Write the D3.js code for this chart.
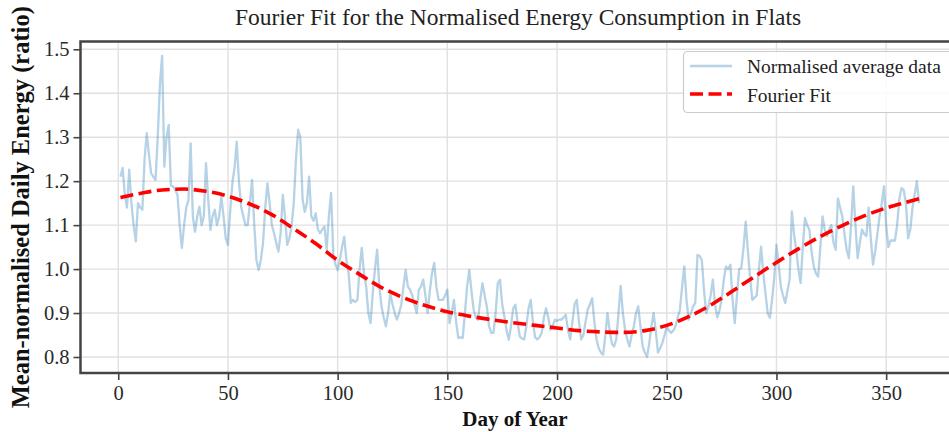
<!DOCTYPE html>
<html>
<head>
<meta charset="utf-8">
<script src="https://cdn.jsdelivr.net/npm/d3@7"></script>
<style>
  html, body { margin: 0; padding: 0; background: #fff; overflow: hidden; }
  svg { display: block; }
  text { font-family: "Liberation Serif", "Times New Roman", serif; }
</style>
</head>
<body>
<svg id="chart" width="949" height="432"></svg>
<script>
// ---------------- DATA ----------------
const chartTitle = "Fourier Fit for the Normalised Energy Consumption in Flats";
const xLabel = "Day of Year";
const yLabel = "Mean-normalised Daily Energy (ratio)";
const seriesNames = ["Normalised average data", "Fourier Fit"];

// normalised average daily data, day 1 .. 365 (7 values per row)
const dailyValues = [
  1.21, 1.23, 1.17, 1.14, 1.226, 1.15, 1.10,
  1.063, 1.15, 1.14, 1.135, 1.25, 1.309, 1.26,
  1.218, 1.21, 1.203, 1.30, 1.42, 1.485, 1.233,
  1.30, 1.328, 1.19, 1.188, 1.18, 1.169, 1.10,
  1.048, 1.10, 1.14, 1.157, 1.286, 1.12, 1.085,
  1.12, 1.142, 1.10, 1.12, 1.241, 1.16, 1.089,
  1.12, 1.135, 1.10, 1.12, 1.165, 1.12, 1.07,
  1.055, 1.13, 1.195, 1.23, 1.29, 1.20, 1.142,
  1.12, 1.10, 1.10, 1.15, 1.203, 1.10, 1.02,
  0.998, 1.021, 1.06, 1.14, 1.195, 1.15, 1.10,
  1.082, 1.06, 1.04, 1.08, 1.169, 1.12, 1.055,
  1.07, 1.097, 1.15, 1.25, 1.317, 1.30, 1.16,
  1.13, 1.15, 1.21, 1.12, 1.11, 1.127, 1.09,
  1.082, 1.09, 1.097, 1.044, 1.12, 1.173, 1.036,
  1.01, 0.998, 1.021, 1.05, 1.074, 1.02, 0.991,
  0.923, 0.93, 0.925, 0.93, 1.00, 1.048, 0.99,
  0.96, 0.90, 0.877, 0.945, 1.00, 1.044, 0.96,
  0.915, 0.89, 0.87, 0.90, 0.945, 0.92, 0.90,
  0.885, 0.90, 0.919, 0.96, 0.998, 0.96, 0.953,
  0.94, 0.92, 0.90, 0.953, 0.96, 0.976, 0.94,
  0.90, 0.95, 0.99, 1.014, 0.96, 0.93, 0.93,
  0.93, 0.94, 0.953, 0.877, 0.90, 0.93, 0.88,
  0.843, 0.845, 0.843, 0.90, 0.96, 0.998, 0.95,
  0.907, 0.89, 0.885, 0.93, 0.968, 0.94, 0.915,
  0.87, 0.855, 0.855, 0.90, 0.968, 0.976, 0.92,
  0.892, 0.86, 0.839, 0.87, 0.91, 0.919, 0.88,
  0.847, 0.842, 0.84, 0.87, 0.91, 0.93, 0.88,
  0.845, 0.84, 0.845, 0.855, 0.89, 0.911, 0.89,
  0.862, 0.87, 0.885, 0.882, 0.885, 0.885, 0.89,
  0.896, 0.86, 0.84, 0.88, 0.92, 0.93, 0.88,
  0.84, 0.85, 0.88, 0.908, 0.92, 0.934, 0.88,
  0.84, 0.82, 0.81, 0.805, 0.85, 0.90, 0.86,
  0.83, 0.824, 0.84, 0.90, 0.962, 0.90, 0.862,
  0.84, 0.824, 0.85, 0.87, 0.90, 0.915, 0.87,
  0.824, 0.81, 0.80, 0.83, 0.87, 0.90, 0.86,
  0.81, 0.82, 0.832, 0.85, 0.87, 0.86, 0.855,
  0.86, 0.87, 0.89, 0.907, 0.96, 1.006, 0.93,
  0.885, 0.90, 0.915, 0.923, 1.032, 1.03, 1.02,
  0.95, 0.90, 0.915, 0.94, 0.976, 0.92, 0.89,
  0.905, 0.93, 0.976, 1.006, 1.00, 1.01, 0.93,
  0.877, 0.94, 1.00, 1.002, 1.05, 1.108, 1.04,
  0.98, 0.93, 0.935, 0.94, 1.00, 1.051, 0.99,
  0.945, 0.90, 0.889, 0.93, 0.98, 1.055, 1.01,
  0.96, 0.94, 0.923, 0.95, 0.976, 1.131, 1.08,
  1.044, 1.00, 0.968, 1.05, 1.116, 1.10, 1.09,
  1.04, 1.006, 0.99, 0.983, 1.05, 1.12, 1.09,
  1.075, 1.09, 1.10, 1.06, 1.044, 1.161, 1.14,
  1.12, 1.08, 1.044, 1.025, 1.10, 1.188, 1.10,
  1.025, 1.06, 1.09, 1.08, 1.075, 1.14, 1.07,
  1.01, 1.04, 1.08, 1.12, 1.15, 1.188, 1.10,
  1.05, 1.065, 1.065, 1.065, 1.10, 1.16, 1.184,
  1.18, 1.15, 1.07, 1.09, 1.14, 1.17, 1.20,
  1.15
];

// Fourier fit, read at these days
const fitDays = [1, 10, 20, 30, 40, 50, 60, 70, 80, 90, 100, 110, 120, 130, 140, 150, 160, 170, 180,
  190, 200, 210, 220, 230, 240, 250, 260, 270, 280, 290, 300, 310, 320, 330, 340, 350, 360, 365];
const fitValues = [1.163, 1.172, 1.180, 1.182, 1.177, 1.166, 1.148, 1.124, 1.092, 1.058, 1.020, 0.988,
  0.958, 0.935, 0.917, 0.903, 0.893, 0.885, 0.878, 0.872, 0.866, 0.860, 0.857, 0.856, 0.860, 0.872,
  0.892, 0.918, 0.950, 0.983, 1.015, 1.046, 1.074, 1.099, 1.121, 1.139, 1.153, 1.160];

const xTicks = [0, 50, 100, 150, 200, 250, 300, 350];
const yTicks = [0.8, 0.9, 1.0, 1.1, 1.2, 1.3, 1.4, 1.5];

// ---------------- DRAW ----------------
const svg = d3.select("#chart");
const plot = { left: 80.5, top: 41.5, right: 959, bottom: 373 };

const x = d3.scaleLinear().domain([-17.2, 383.2]).range([plot.left, plot.right]);
const y = d3.scaleLinear().domain([0.7636, 1.5177]).range([plot.bottom, plot.top]);

const dataPts = dailyValues.map((v, i) => ({ d: i + 1, v }));
const fitPts = fitDays.map((d, i) => ({ d, v: fitValues[i] }));

svg.append("defs").append("clipPath").attr("id", "clip")
  .append("rect").attr("x", plot.left).attr("y", plot.top)
  .attr("width", plot.right - plot.left).attr("height", plot.bottom - plot.top);

// grid
const grid = svg.append("g");
grid.selectAll("line.gx").data(xTicks).join("line")
  .attr("x1", d => x(d)).attr("x2", d => x(d))
  .attr("y1", plot.top).attr("y2", plot.bottom)
  .attr("stroke", "#e0e0e0").attr("stroke-width", 1.4);
grid.selectAll("line.gy").data(yTicks).join("line")
  .attr("x1", plot.left).attr("x2", plot.right)
  .attr("y1", d => y(d)).attr("y2", d => y(d))
  .attr("stroke", "#e0e0e0").attr("stroke-width", 1.4);

const g = svg.append("g").attr("clip-path", "url(#clip)");

g.append("path").datum(dataPts)
  .attr("fill", "none")
  .attr("stroke", "#1f77b4").attr("stroke-opacity", 0.33)
  .attr("stroke-width", 2.3).attr("stroke-linejoin", "round")
  .attr("d", d3.line().x(p => x(p.d)).y(p => y(p.v)));

g.append("path").datum(fitPts)
  .attr("fill", "none")
  .attr("stroke", "#ff0000").attr("stroke-width", 3.6)
  .attr("stroke-dasharray", "13,5.5")
  .attr("d", d3.line().x(p => x(p.d)).y(p => y(p.v)).curve(d3.curveMonotoneX));

// axes
const axisColor = "#444";
const xAxis = svg.append("g").attr("transform", `translate(0,${plot.bottom})`)
  .call(d3.axisBottom(x).tickValues(xTicks).tickFormat(d3.format("d")).tickSize(7).tickPadding(5));
const yAxis = svg.append("g").attr("transform", `translate(${plot.left},0)`)
  .call(d3.axisLeft(y).tickValues(yTicks).tickFormat(d3.format(".1f")).tickSize(7).tickPadding(4));
[xAxis, yAxis].forEach(a => {
  a.select(".domain").remove();
  a.selectAll(".tick line").attr("stroke", axisColor).attr("stroke-width", 1.6);
  a.selectAll(".tick text").attr("fill", "#2a2a2a")
    .style("font-family", '"Liberation Serif", "Times New Roman", serif')
    .style("font-size", "20.5px");
});

// frame
svg.append("rect")
  .attr("x", plot.left).attr("y", plot.top)
  .attr("width", plot.right - plot.left).attr("height", plot.bottom - plot.top)
  .attr("fill", "none").attr("stroke", axisColor).attr("stroke-width", 2.5);

// title
svg.append("text").attr("x", 518).attr("y", 25)
  .attr("text-anchor", "middle").attr("fill", "#222")
  .style("font-size", "23.5px").text(chartTitle);

// axis labels
svg.append("text").attr("x", 515).attr("y", 426)
  .attr("text-anchor", "middle").attr("fill", "#111")
  .style("font-size", "21px").style("font-weight", "bold").text(xLabel);

svg.append("text")
  .attr("transform", `translate(29,${(plot.top + plot.bottom) / 2}) rotate(-90)`)
  .attr("text-anchor", "middle").attr("fill", "#111")
  .style("font-size", "24.5px").style("font-weight", "bold").text(yLabel);

// legend
const lg = svg.append("g");
lg.append("rect").attr("x", 683.5).attr("y", 51.5).attr("width", 290).attr("height", 61)
  .attr("rx", 4).attr("fill", "#fff").attr("fill-opacity", 0.85)
  .attr("stroke", "#cccccc").attr("stroke-width", 1.2);
lg.append("line").attr("x1", 690).attr("x2", 732).attr("y1", 66).attr("y2", 66)
  .attr("stroke", "#1f77b4").attr("stroke-opacity", 0.33).attr("stroke-width", 2.4);
lg.append("line").attr("x1", 690).attr("x2", 732).attr("y1", 94).attr("y2", 94)
  .attr("stroke", "#ff0000").attr("stroke-width", 3.6).attr("stroke-dasharray", "13,5.5");
lg.append("text").attr("x", 747).attr("y", 73).attr("fill", "#222")
  .style("font-size", "19.5px").text(seriesNames[0]);
lg.append("text").attr("x", 747).attr("y", 102).attr("fill", "#222")
  .style("font-size", "19.5px").text(seriesNames[1]);
</script>
</body>
</html>
